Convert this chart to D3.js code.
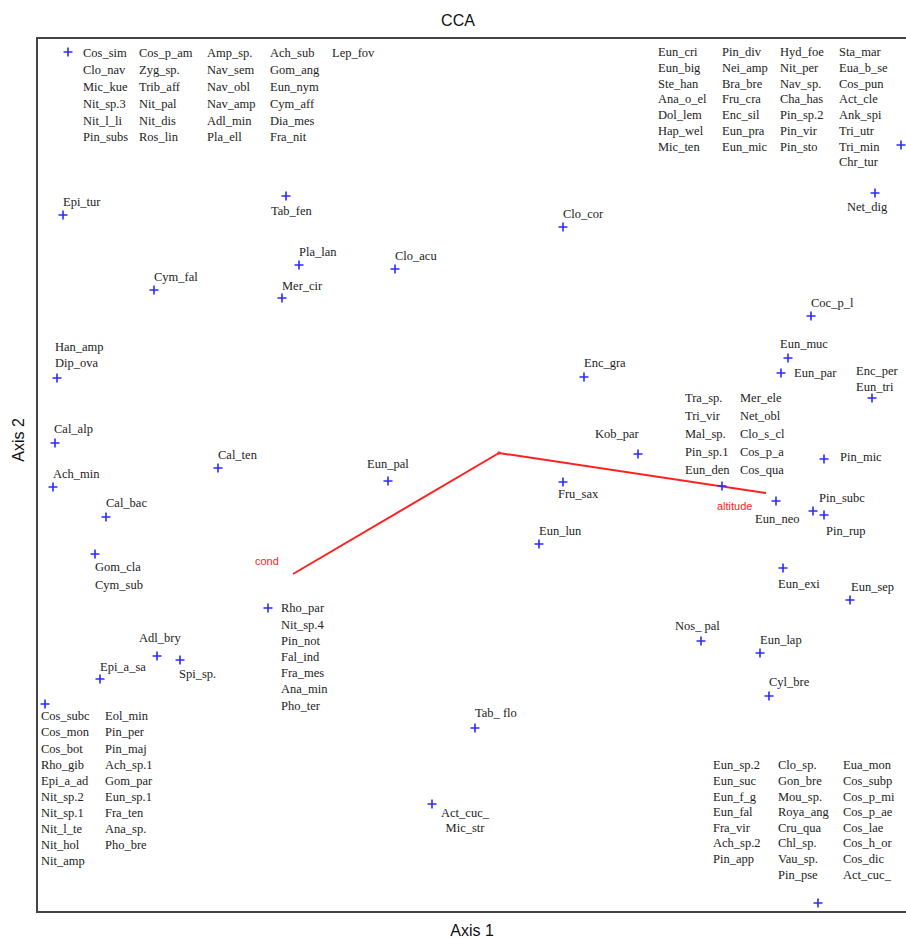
<!DOCTYPE html>
<html>
<head>
<meta charset="utf-8">
<script src="https://d3js.org/d3.v7.min.js"></script>
<style>
  body { margin: 0; background: #fff; }
  svg text.ttl { font-family: "Liberation Sans", Arial, sans-serif; font-size: 16px; fill: #111; }
  svg text.env { font-family: "Liberation Sans", Arial, sans-serif; font-size: 11px; fill: #ff2222; }
</style>
</head>
<body>
<div class="chart"></div>
<script>
(function(){

//species that share one ordination position are listed together (column by column)
var speciesGroups = [
    [["Cos_sim","Clo_nav","Mic_kue","Nit_sp.3","Nit_l_li","Pin_subs"],
     ["Cos_p_am","Zyg_sp.","Trib_aff","Nit_pal","Nit_dis","Ros_lin"],
     ["Amp_sp.","Nav_sem","Nav_obl","Nav_amp","Adl_min","Pla_ell"],
     ["Ach_sub","Gom_ang","Eun_nym","Cym_aff","Dia_mes","Fra_nit"],
     ["Lep_fov"]],
    [["Eun_cri","Eun_big","Ste_han","Ana_o_el","Dol_lem","Hap_wel","Mic_ten"],
     ["Pin_div","Nei_amp","Bra_bre","Fru_cra","Enc_sil","Eun_pra","Eun_mic"],
     ["Hyd_foe","Nit_per","Nav_sp.","Cha_has","Pin_sp.2","Pin_vir","Pin_sto"],
     ["Sta_mar","Eua_b_se","Cos_pun","Act_cle","Ank_spi","Tri_utr","Tri_min","Chr_tur"]],
    [["Net_dig"]],
    [["Epi_tur"]],
    [["Tab_fen"]],
    [["Pla_lan"]],
    [["Mer_cir"]],
    [["Clo_acu"]],
    [["Cym_fal"]],
    [["Clo_cor"]],
    [["Coc_p_l"]],
    [["Eun_muc"]],
    [["Eun_par"]],
    [["Enc_gra"]],
    [["Enc_per","Eun_tri"]],
    [["Tra_sp.","Tri_vir","Mal_sp.","Pin_sp.1","Eun_den"],
     ["Mer_ele","Net_obl","Clo_s_cl","Cos_p_a","Cos_qua"]],
    [["Pin_mic"]],
    [["Eun_neo"]],
    [["Pin_subc"]],
    [["Pin_rup"]],
    [["Eun_exi"]],
    [["Eun_sep"]],
    [["Nos_ pal"]],
    [["Eun_lap"]],
    [["Cyl_bre"]],
    [["Eun_sp.2","Eun_suc","Eun_f_g","Eun_fal","Fra_vir","Ach_sp.2","Pin_app"],
     ["Clo_sp.","Gon_bre","Mou_sp.","Roya_ang","Cru_qua","Chl_sp.","Vau_sp.","Pin_pse"],
     ["Eua_mon","Cos_subp","Cos_p_mi","Cos_p_ae","Cos_lae","Cos_h_or","Cos_dic","Act_cuc_"]],
    [["Act_cuc_","Mic_str"]],
    [["Tab_ flo"]],
    [["Rho_par","Nit_sp.4","Pin_not","Fal_ind","Fra_mes","Ana_min","Pho_ter"]],
    [["Adl_bry"]],
    [["Spi_sp."]],
    [["Epi_a_sa"]],
    [["Cos_subc","Cos_mon","Cos_bot","Rho_gib","Epi_a_ad","Nit_sp.2","Nit_sp.1","Nit_l_te","Nit_hol","Nit_amp"],
     ["Eol_min","Pin_per","Pin_maj","Ach_sp.1","Gom_par","Eun_sp.1","Fra_ten","Ana_sp.","Pho_bre"]],
    [["Han_amp","Dip_ova"]],
    [["Cal_alp"]],
    [["Ach_min"]],
    [["Cal_bac"]],
    [["Cal_ten"]],
    [["Gom_cla","Cym_sub"]],
    [["Eun_pal"]],
    [["Fru_sax"]],
    [["Eun_lun"]],
    [["Kob_par"]]
];

//species scores on the two CCA axes
var axis1 = [-2.155, 2.01, 1.88, -2.18, -1.065, -1.00, -1.085, -0.52, -1.725, 0.32,
             1.56, 1.445, 1.41, 0.425, 1.865, 1.115, 1.625, 1.385, 1.57, 1.625,
             1.42, 1.755, 1.01, 1.305, 1.35, 1.595, -0.335, -0.12, -1.155, -1.71,
             -1.595, -1.995, -2.27, -2.21, -2.22, -2.23, -1.965, -1.405, -2.02, -0.555,
             0.32, 0.20, 0.695];
var axis2 = [2.005, 1.54, 1.30, 1.19, 1.285, 0.94, 0.775, 0.92, 0.815, 1.13,
             0.685, 0.475, 0.40, 0.38, 0.275, -0.165, -0.03, -0.24, -0.29, -0.31,
             -0.575, -0.735, -0.94, -1.00, -1.215, -2.25, -1.755, -1.375, -0.775, -1.015,
             -1.035, -1.13, -1.255, 0.375, 0.05, -0.17, -0.32, -0.075, -0.505, -0.14,
             -0.145, -0.455, -0.005];

//environmental variables (biplot arrows)
var envNames = ["cond", "altitude"];
var envAxis1 = [-1.03, 1.335];
var envAxis2 = [-0.605, -0.20];

//label placement relative to each marker (pixels): column offsets, first row offset, row step
var labelLayout = [
    {cols: [15, 71, 139, 202, 264], dy: 1, step: 16.8},
    {cols: [-243, -179, -121, -62], dy: -93, step: 15.7},
    {cols: [-28], dy: 14},
    {cols: [0], dy: -13},
    {cols: [-15], dy: 15},
    {cols: [0], dy: -13},
    {cols: [0], dy: -12},
    {cols: [0], dy: -13},
    {cols: [0], dy: -13},
    {cols: [0], dy: -13},
    {cols: [0], dy: -13},
    {cols: [-8], dy: -14},
    {cols: [13], dy: 0},
    {cols: [0], dy: -14},
    {cols: [-16], dy: -27, step: 16},
    {cols: [-37, 18], dy: -88, step: 18},
    {cols: [16], dy: -2},
    {cols: [-21], dy: 18},
    {cols: [6], dy: -13},
    {cols: [2], dy: 16},
    {cols: [-5], dy: 16},
    {cols: [1], dy: -13},
    {cols: [-26], dy: -15},
    {cols: [0], dy: -13},
    {cols: [0], dy: -14},
    {cols: [-105, -40, 25], dy: -138, step: 15.6},
    {cols: [33], dy: 9, step: 15, anchor: "middle"},
    {cols: [0], dy: -15},
    {cols: [13], dy: 0, step: 16.2},
    {cols: [-18], dy: -18},
    {cols: [-1], dy: 14},
    {cols: [0], dy: -12},
    {cols: [-4, 60], dy: 12, step: 16.1},
    {cols: [-2], dy: -31, step: 16},
    {cols: [-1], dy: -14},
    {cols: [0], dy: -13},
    {cols: [0], dy: -14},
    {cols: [0], dy: -13},
    {cols: [0], dy: 13, step: 18},
    {cols: [-21], dy: -17},
    {cols: [-5], dy: 12},
    {cols: [0], dy: -13},
    {cols: [-43], dy: -20}
];
var envLabelLayout = [{dx: -38, dy: -13}, {dx: -49, dy: 13}];

window.onload = drawChart();

function drawChart(){

    var width = 906,
        height = 939;

    var frame = {left: 37, top: 38, right: 912, bottom: 912};

    var svg = d3.select(".chart")
        .append("svg")
        .attr("width", width)
        .attr("height", height);

    var x = d3.scaleLinear()
        .domain([-2.31, 2.065])
        .range([frame.left, frame.right]);

    var y = d3.scaleLinear()
        .domain([-2.295, 2.075])
        .range([frame.bottom, frame.top]);

    //plot frame
    svg.append("rect")
        .attr("x", frame.left)
        .attr("y", frame.top)
        .attr("width", frame.right - frame.left)
        .attr("height", frame.bottom - frame.top)
        .attr("fill", "none")
        .attr("stroke", "#444")
        .attr("stroke-width", 2);

    //titles
    svg.append("text").attr("class", "ttl")
        .attr("x", 458).attr("y", 26)
        .attr("text-anchor", "middle")
        .text("CCA");
    svg.append("text").attr("class", "ttl")
        .attr("x", 472).attr("y", 936)
        .attr("text-anchor", "middle")
        .text("Axis 1");
    svg.append("text").attr("class", "ttl")
        .attr("transform", "translate(24,440) rotate(-90)")
        .attr("text-anchor", "middle")
        .text("Axis 2");

    //environmental arrows
    var env = envNames.map(function(n, i){
        return {name: n, x: envAxis1[i], y: envAxis2[i], lab: envLabelLayout[i]};
    });

    svg.selectAll(".arrow")
        .data(env)
        .enter()
        .append("line")
        .attr("class", "arrow")
        .attr("x1", x(0)).attr("y1", y(0))
        .attr("x2", function(d){ return x(d.x); })
        .attr("y2", function(d){ return y(d.y); })
        .attr("stroke", "#ff2020")
        .attr("stroke-width", 2);

    svg.selectAll(".env")
        .data(env)
        .enter()
        .append("text")
        .attr("class", "env")
        .attr("x", function(d){ return x(d.x) + d.lab.dx; })
        .attr("y", function(d){ return y(d.y) + d.lab.dy; })
        .attr("dy", "0.35em")
        .text(function(d){ return d.name; });

    //small cross at the origin
    svg.append("path")
        .attr("d", "M" + (x(0) - 2) + "," + y(0) + "h4M" + x(0) + "," + (y(0) - 2) + "v4")
        .attr("stroke", "#ff2020")
        .attr("stroke-width", 1);

    //species points
    var pts = speciesGroups.map(function(g, i){
        return {cols: g, x: axis1[i], y: axis2[i], lab: labelLayout[i]};
    });

    var groups = svg.selectAll(".species")
        .data(pts)
        .enter()
        .append("g")
        .attr("class", "species")
        .attr("transform", function(d){
            return "translate(" + x(d.x) + "," + y(d.y) + ")";
        });

    groups.append("path")
        .attr("d", "M-4.5,0H4.5M0,-4.5V4.5")
        .attr("stroke", "#2b2bff")
        .attr("stroke-width", 1.6);

    groups.each(function(d){
        var g = d3.select(this);
        var step = d.lab.step || 16;
        d.cols.forEach(function(col, c){
            col.forEach(function(name, r){
                g.append("text")
                    .attr("x", d.lab.cols[c])
                    .attr("y", d.lab.dy + r * step)
                    .attr("dy", "0.35em")
                    .attr("text-anchor", d.lab.anchor || "start")
                    .attr("font-family", "'Liberation Serif', 'Times New Roman', serif")
                    .attr("font-size", 12.5)
                    .attr("fill", "#222")
                    .text(name);
            });
        });
    });
};

})();
</script>
</body>
</html>
